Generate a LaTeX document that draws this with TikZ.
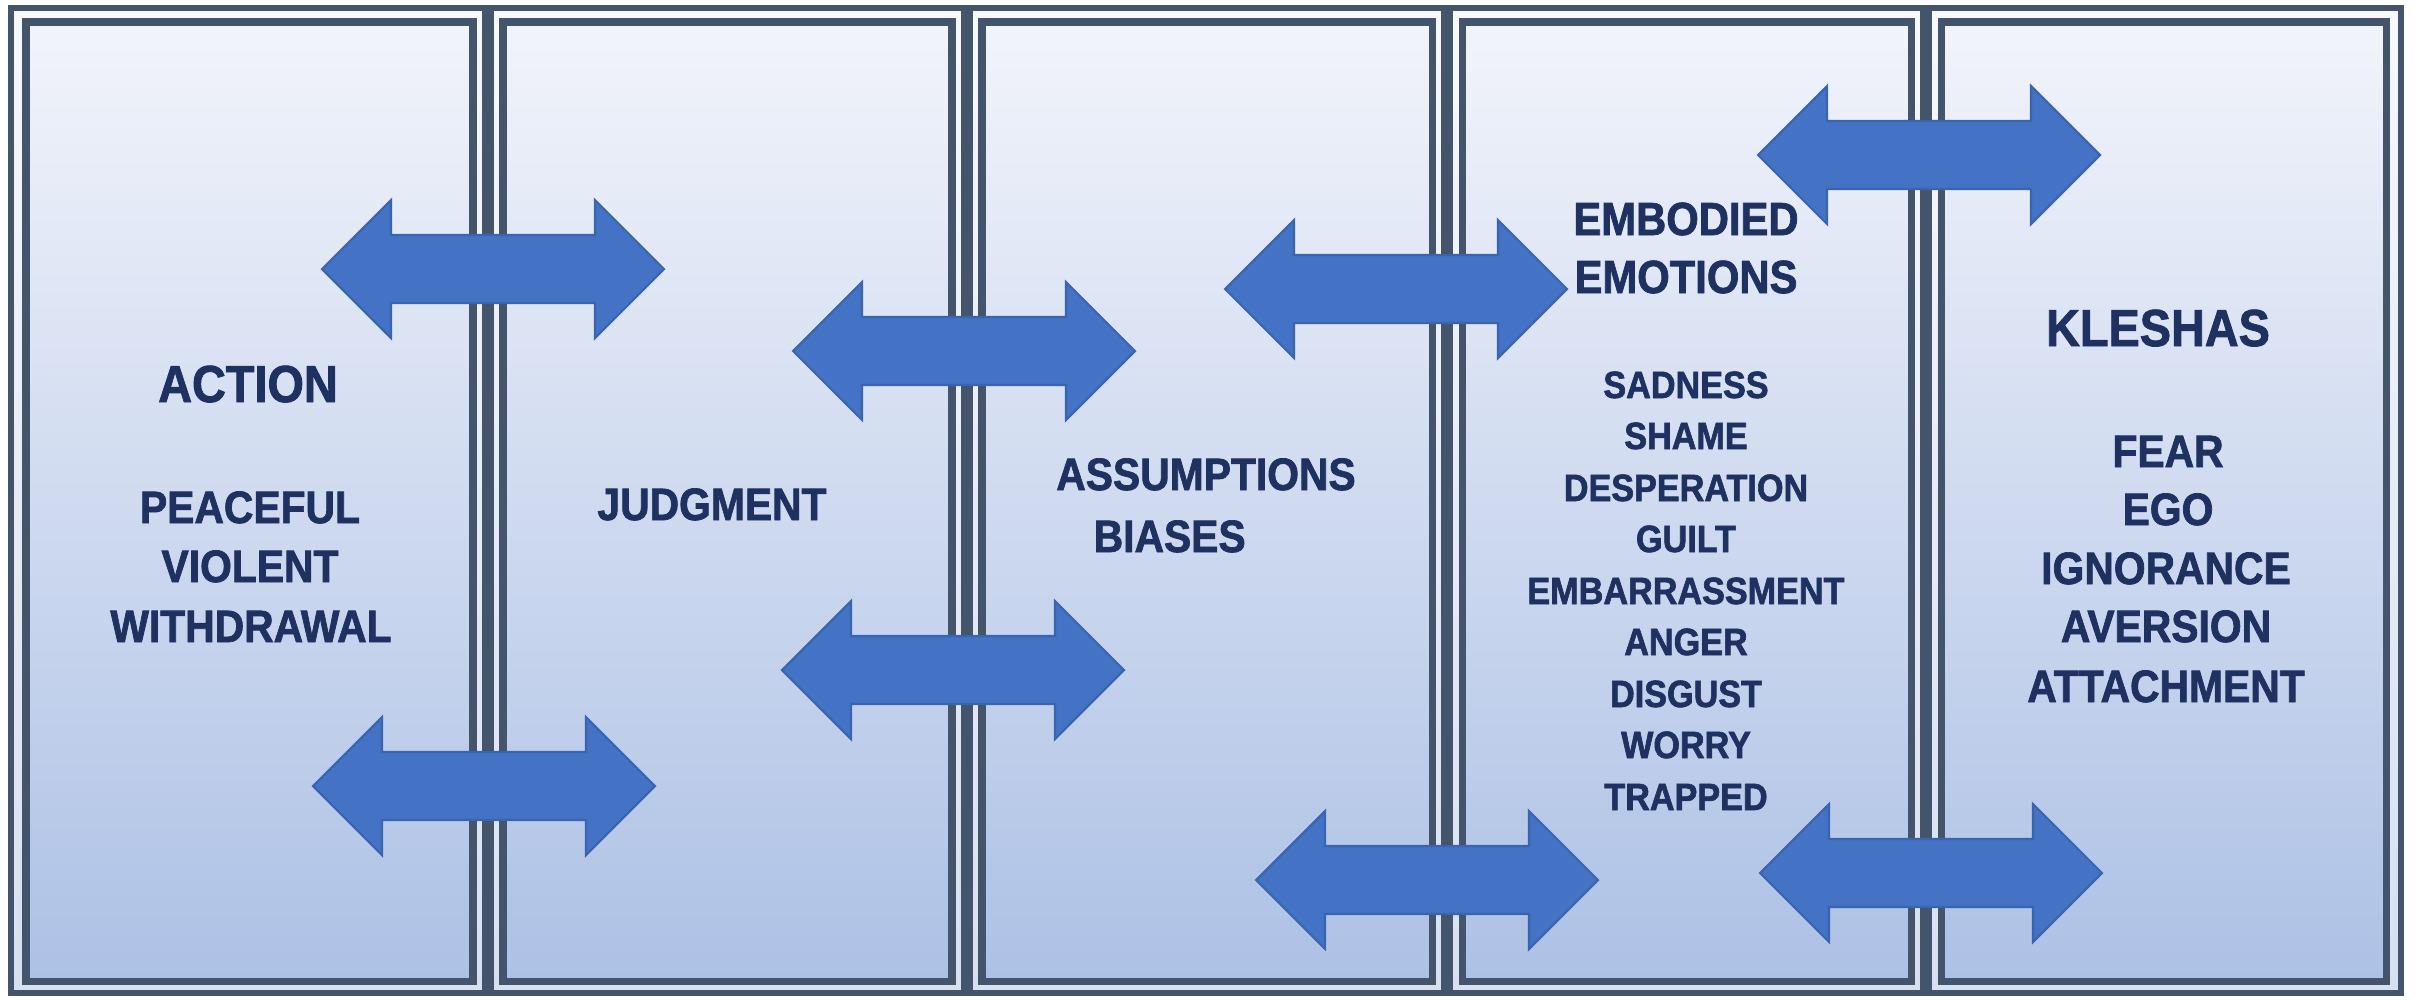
\documentclass[tikz,border=0pt]{standalone}
\usepackage{fontspec}
\setmainfont{Liberation Sans}[FakeStretch=0.9,BoldFeatures={FakeBold=1.6}]
\definecolor{frame}{HTML}{44546A}
\definecolor{bgtop}{HTML}{F2F4FB}
\definecolor{bgbot}{HTML}{ADC1E5}
\definecolor{gaptop}{HTML}{F6F8FC}
\definecolor{gapbot}{HTML}{D6E0F1}
\definecolor{arrfill}{HTML}{4472C4}
\definecolor{arrline}{HTML}{3A64B0}
\definecolor{txt}{HTML}{1E3160}
\begin{document}
\begin{tikzpicture}[x=0.01cm,y=-0.01cm,
  innerline/.style={draw=frame,line width=2pt},
  outerline/.style={draw=frame,line width=1.7pt},
  sepline/.style={draw=frame,line width=3.4pt},
  dblarrow/.style={fill=arrfill,draw=arrline,line width=0.6pt,line join=miter},
  txtbase/.style={text=txt,inner sep=0pt,anchor=base},
  headtxt/.style={txtbase,font=\fontsize{14.8}{17}\selectfont\bfseries},
  embtxt/.style={txtbase,font=\fontsize{13.2}{15}\selectfont\bfseries},
  itemtxt/.style={txtbase,font=\fontsize{12.9}{15}\selectfont\bfseries},
  smalltxt/.style={txtbase,font=\fontsize{10.8}{13}\selectfont\bfseries}]
\useasboundingbox (0,0) rectangle (2415,999);
\fill[white] (0,0) rectangle (2415,999);
% outer background
\shade[top color=gaptop,bottom color=gapbot] (11,8) rectangle (2401,993);
% panels
\foreach \a/\b in {11/488,488/967,967/1447,1447/1926,1926/2401}{
  \shade[top color=bgtop,bottom color=bgbot] (\a+15,22) rectangle (\b-15,981);
  \draw[innerline] (\a+15,22) rectangle (\b-15,981);
}
\draw[outerline] (11,8) rectangle (2401,993);
\foreach \s in {488,967,1447,1926}{
  \draw[sepline] (\s,8) -- (\s,993);
}
% double arrows: left tip x, centre y
\foreach \x/\y in {322/269,313/786,793/351,782/670,1225/289,1256/880,1758/155,1760/873}{
  \draw[dblarrow] (\x,\y) -- ++(69,-69) -- ++(0,35) -- ++(204,0) -- ++(0,-35)
     -- ++(69,69) -- ++(-69,69) -- ++(0,-35) -- ++(-204,0) -- ++(0,35) -- cycle;
}
% panel 1
\node[headtxt] (action) at (248,402) {ACTION};
\node[itemtxt] (peaceful) at (250,523) {PEACEFUL};
\node[itemtxt] (violent) at (250,582) {VIOLENT};
\node[itemtxt] (withdrawal) at (251,642) {WITHDRAWAL};
% panel 2
\node[itemtxt] (judgment) at (712,520) {JUDGMENT};
% panel 3
\node[itemtxt] (assumptions) at (1206,490) {ASSUMPTIONS};
\node[itemtxt,anchor=base west] (biases) at (1093,552) {BIASES};
% panel 4
\node[embtxt] (embodied) at (1686,235) {EMBODIED};
\node[embtxt] (emotions) at (1686,293) {EMOTIONS};
\node[smalltxt] (sadness) at (1686,398) {SADNESS};
\node[smalltxt] (shame) at (1686,449) {SHAME};
\node[smalltxt] (desperation) at (1686,501) {DESPERATION};
\node[smalltxt] (guilt) at (1686,552) {GUILT};
\node[smalltxt] (embarrassment) at (1686,604) {EMBARRASSMENT};
\node[smalltxt] (anger) at (1686,655) {ANGER};
\node[smalltxt] (disgust) at (1686,707) {DISGUST};
\node[smalltxt] (worry) at (1686,758) {WORRY};
\node[smalltxt] (trapped) at (1686,810) {TRAPPED};
% panel 5
\node[headtxt] (kleshas) at (2158,346) {KLESHAS};
\node[itemtxt] (fear) at (2168,467) {FEAR};
\node[itemtxt] (ego) at (2168,525) {EGO};
\node[itemtxt] (ignorance) at (2166,584) {IGNORANCE};
\node[itemtxt] (aversion) at (2166,642) {AVERSION};
\node[itemtxt] (attachment) at (2166,702) {ATTACHMENT};
\end{tikzpicture}
\end{document}
